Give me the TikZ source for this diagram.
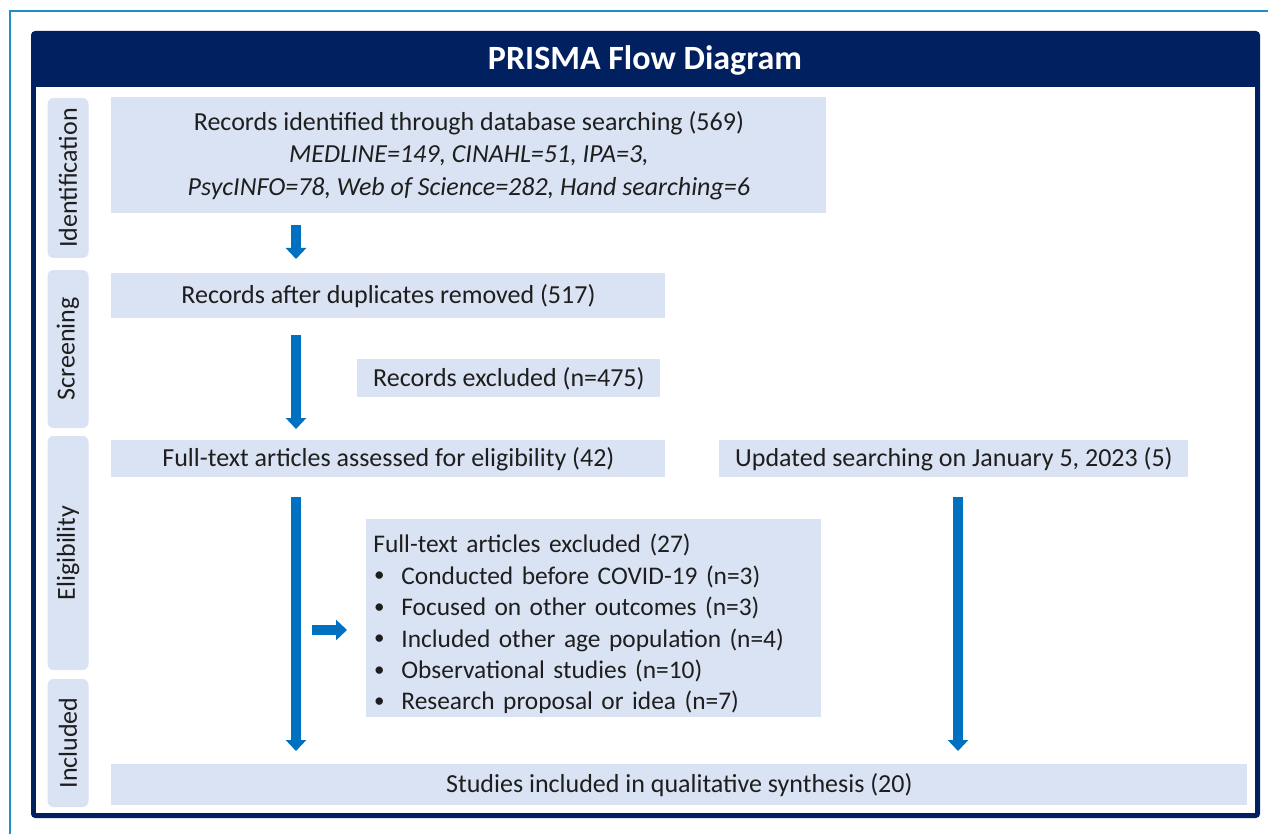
\documentclass[tikz,border=0pt]{standalone}
\usepackage{fontspec}
\setmainfont{Carlito}
\usetikzlibrary{arrows.meta}

\definecolor{prismanavy}{RGB}{0,32,96}
\definecolor{boxblue}{RGB}{218,227,243}
\definecolor{arrowblue}{RGB}{0,112,192}
\definecolor{framecyan}{RGB}{30,144,200}
\definecolor{inktext}{RGB}{30,30,30}

\newcommand{\px}{0.5pt}
\newcommand{\listdot}{\makebox[14pt][l]{\hspace{0.4pt}\raisebox{0.2ex}{\fontsize{10.5}{10}\selectfont\textbullet}}}

\tikzset{
stagebox/.style={fill=boxblue, inner sep=0pt, text=inktext, align=center,
  font=\fontsize{13}{16.2}\selectfont},
phase/.style={fill=boxblue, rounded corners=3pt, inner sep=0pt, rotate=90,
  text=inktext, minimum height=41*\px, font=\fontsize{13}{16}\selectfont},
flow/.style={draw=arrowblue, line width=5pt, -{Triangle[length=5.5pt,width=10pt]}}
}

\begin{document}
\begin{tikzpicture}[x=0.5pt, y=-0.5pt]
\useasboundingbox (0,0) rectangle (1268,834);

% Frame
\draw[framecyan, line width=1.2pt] (10,834) -- (10,11) -- (1268,11);
\fill[prismanavy, rounded corners=2pt] (31,31) rectangle (1260,818);
\fill[white] (36,87) rectangle (1255,813);
\node[text=white, font=\fontsize{17}{20}\selectfont\bfseries] (title) at (645,60) {PRISMA Flow Diagram};

% Phases
\node[phase, minimum width=160*\px] (ident) at (68,178) {Identification};
\node[phase, minimum width=158*\px] (screen) at (68,349) {Screening};
\node[phase, minimum width=234*\px] (elig) at (68,553) {Eligibility};
\node[phase, minimum width=128*\px] (incl) at (68,743) {Included};

% Boxes
\node[stagebox, anchor=north west, minimum width=715*\px, minimum height=116*\px] (found) at (111,97)
{Records identified through database searching (569)\\
\textit{MEDLINE=149, CINAHL=51, IPA=3,}\\
\textit{PsycINFO=78, Web of Science=282, Hand searching=6}};
\node[stagebox, anchor=north west, minimum width=554*\px, minimum height=45*\px] (dedup) at (111,273)
{Records after duplicates removed (517)};
\node[stagebox, anchor=north west, minimum width=303*\px, minimum height=38*\px] (dropped) at (357,359)
{Records excluded (n=475)};
\node[stagebox, anchor=north west, minimum width=554*\px, minimum height=37*\px] (fulltext) at (111,440)
{Full-text articles assessed for eligibility (42)};
\node[stagebox, anchor=north west, minimum width=469*\px, minimum height=37*\px] (update) at (719,440)
{Updated searching on January 5, 2023 (5)};
\node[stagebox, anchor=north west, align=left, inner xsep=7*\px, text width=441*\px,
  minimum height=198*\px, font=\fontsize{12.7}{15.7}\selectfont] (reasons) at (366,519)
{\rule{0pt}{15pt}Full-text articles excluded (27)\\
\listdot Conducted before COVID-19 (n=3)\\
\listdot Focused on other outcomes (n=3)\\
\listdot Included other age population (n=4)\\
\listdot Observational studies (n=10)\\
\listdot Research proposal or idea (n=7)};
\node[stagebox, anchor=north west, minimum width=1136*\px, minimum height=41*\px] (final) at (111,764)
{Studies included in qualitative synthesis (20)};

% Arrows
\coordinate (a1s) at (296,225);
\coordinate (a1e) at (296,259);
\coordinate (a2s) at (296,335);
\coordinate (a2e) at (296,429);
\coordinate (a3s) at (296,497);
\coordinate (a3e) at (296,751);
\coordinate (a4s) at (312,630);
\coordinate (a4e) at (347,630);
\coordinate (a5s) at (958,497);
\coordinate (a5e) at (958,751);
\draw[flow] (a1s) -- (a1e);
\draw[flow] (a2s) -- (a2e);
\draw[flow] (a3s) -- (a3e);
\draw[flow] (a4s) -- (a4e);
\draw[flow] (a5s) -- (a5e);

\end{tikzpicture}
\end{document}
